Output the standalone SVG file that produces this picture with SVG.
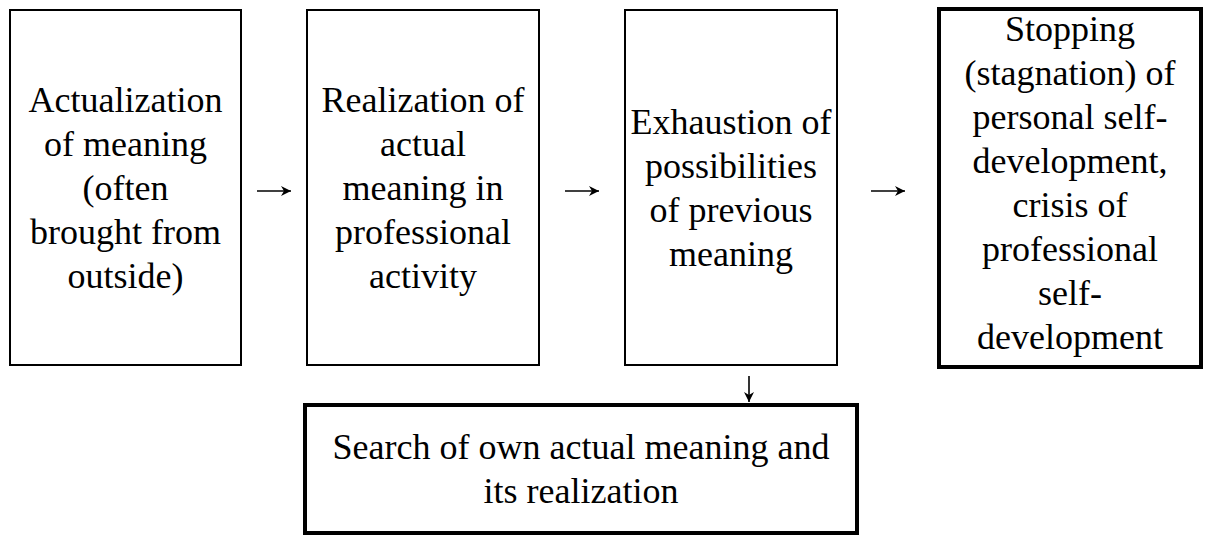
<svg xmlns="http://www.w3.org/2000/svg" width="1205" height="536" viewBox="0 0 1205 536">
<defs>
<style>
.box{fill:#fff;stroke:#000;stroke-width:2}
.thick{stroke-width:4}
.t{font-family:"Liberation Serif","Times New Roman",serif;font-size:36px;fill:#000;text-anchor:middle}
.c{stroke:#000;stroke-width:1.6;fill:none}
</style>
<marker id="ah" viewBox="0 0 12 12" refX="11" refY="6" markerWidth="12" markerHeight="12" markerUnits="userSpaceOnUse" orient="auto">
<path d="M1,1 L11,6 L1,11 L4,6 Z" fill="#000"/>
</marker>
</defs>
<rect width="1205" height="536" fill="#fff"/>
<g id="n1">
<rect class="box" x="10" y="10" width="231" height="355"/>
<text class="t" x="125.5" y="112">Actualization</text>
<text class="t" x="125.5" y="156">of meaning</text>
<text class="t" x="125.5" y="200">(often</text>
<text class="t" x="125.5" y="244">brought from</text>
<text class="t" x="125.5" y="288">outside)</text>
</g>
<g id="n2">
<rect class="box" x="307" y="10" width="232" height="355"/>
<text class="t" x="423" y="112">Realization of</text>
<text class="t" x="423" y="156">actual</text>
<text class="t" x="423" y="200">meaning in</text>
<text class="t" x="423" y="244">professional</text>
<text class="t" x="423" y="288">activity</text>
</g>
<g id="n3">
<rect class="box" x="625" y="10" width="212" height="355"/>
<text class="t" x="731" y="134">Exhaustion of</text>
<text class="t" x="731" y="178">possibilities</text>
<text class="t" x="731" y="222">of previous</text>
<text class="t" x="731" y="266">meaning</text>
</g>
<g id="n4">
<rect class="box thick" x="939" y="9" width="262" height="358"/>
<text class="t" x="1070" y="41">Stopping</text>
<text class="t" x="1070" y="85">(stagnation) of</text>
<text class="t" x="1070" y="129">personal self-</text>
<text class="t" x="1070" y="173">development,</text>
<text class="t" x="1070" y="217">crisis of</text>
<text class="t" x="1070" y="261">professional</text>
<text class="t" x="1070" y="305">self-</text>
<text class="t" x="1070" y="349">development</text>
</g>
<g id="n5">
<rect class="box thick" x="305" y="405" width="552" height="128"/>
<text class="t" x="581" y="459">Search of own actual meaning and</text>
<text class="t" x="581" y="503">its realization</text>
</g>
<g id="connectors">
<line class="c" x1="257" y1="191" x2="291" y2="191" marker-end="url(#ah)"/>
<line class="c" x1="565" y1="191" x2="599" y2="191" marker-end="url(#ah)"/>
<line class="c" x1="871" y1="191" x2="905" y2="191" marker-end="url(#ah)"/>
<line class="c" x1="749" y1="376" x2="749" y2="402" marker-end="url(#ah)"/>
</g>
</svg>
